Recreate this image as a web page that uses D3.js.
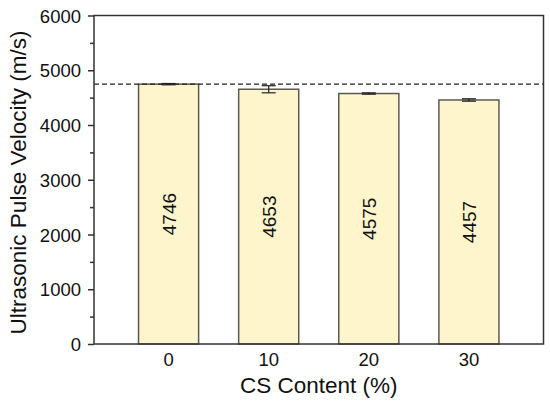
<!DOCTYPE html>
<html>
<head>
<meta charset="utf-8">
<script src="https://cdn.jsdelivr.net/npm/d3@7"></script>
<style>
  body { margin: 0; background: #fff; }
  text { font-family: "Liberation Sans", Arial, sans-serif; fill: #111; }
</style>
</head>
<body>
<script>
'use strict';

// chart values
var categories = ['0', '10', '20', '30'];
var velocities = [4746, 4653, 4575, 4457];
var errors = [12, 65, 12, 22];
var yTicks = [0, 1000, 2000, 3000, 4000, 5000, 6000];
var yMinorTicks = [500, 1500, 2500, 3500, 4500, 5500];

var width = 550;
var height = 401;
var margin = {top: 15.5, right: 6.5, bottom: 57, left: 94};

var svg = d3.select('body')
    .append('svg')
    .attr('width', width)
    .attr('height', height);

var x = d3.scaleBand()
    .domain(categories)
    .range([margin.left, width - margin.right])
    .paddingInner(0.4)
    .paddingOuter(0.445);

var y = d3.scaleLinear()
    .domain([0, 6000])
    .range([height - margin.bottom, margin.top]);

var data = categories.map(function (c, i) {
    return {cat: c, value: velocities[i], err: errors[i]};
});

// bars
svg.selectAll('.bar')
    .data(data)
    .enter()
    .append('rect')
    .attr('class', 'bar')
    .attr('x', function (d) { return x(d.cat); })
    .attr('y', function (d) { return y(d.value); })
    .attr('width', x.bandwidth())
    .attr('height', function (d) { return y(0) - y(d.value); })
    .style('fill', '#fef5cc')
    .style('stroke', '#5a5a50')
    .style('stroke-width', 1.5);

// error bars
var eb = svg.selectAll('.err')
    .data(data)
    .enter()
    .append('g')
    .attr('class', 'err')
    .style('stroke', '#222')
    .style('stroke-width', 1.2);

eb.append('line')
    .attr('x1', function (d) { return x(d.cat) + x.bandwidth() / 2; })
    .attr('x2', function (d) { return x(d.cat) + x.bandwidth() / 2; })
    .attr('y1', function (d) { return y(d.value + d.err); })
    .attr('y2', function (d) { return y(d.value - d.err); });

[1, -1].forEach(function (s) {
    eb.append('line')
        .attr('x1', function (d) { return x(d.cat) + x.bandwidth() / 2 - 7; })
        .attr('x2', function (d) { return x(d.cat) + x.bandwidth() / 2 + 7; })
        .attr('y1', function (d) { return y(d.value + s * d.err); })
        .attr('y2', function (d) { return y(d.value + s * d.err); });
});

// reference dashed line at the control value
svg.append('line')
    .attr('x1', margin.left)
    .attr('x2', width - margin.right)
    .attr('y1', y(velocities[0]))
    .attr('y2', y(velocities[0]))
    .style('stroke', '#222')
    .style('stroke-width', 1.2)
    .style('stroke-dasharray', '5,3');

// value labels, rotated, at half height
svg.selectAll('.val')
    .data(data)
    .enter()
    .append('text')
    .attr('class', 'val')
    .attr('transform', function (d) {
        return 'translate(' + (x(d.cat) + x.bandwidth() / 2 + 7) + ',' + y(d.value / 2) + ') rotate(-90)';
    })
    .attr('text-anchor', 'middle')
    .style('font-size', '19px')
    .text(function (d) { return d.value; });

// frame
svg.append('rect')
    .attr('x', margin.left)
    .attr('y', margin.top)
    .attr('width', width - margin.left - margin.right)
    .attr('height', height - margin.top - margin.bottom)
    .style('fill', 'none')
    .style('stroke', '#333')
    .style('stroke-width', 1.5);

// y axis
var yAxis = svg.append('g')
    .attr('transform', 'translate(' + margin.left + ',0)')
    .call(d3.axisLeft(y).tickValues(yTicks).tickFormat(d3.format('d')).tickSize(6).tickPadding(7));
yAxis.select('.domain').remove();
yAxis.selectAll('line').style('stroke', '#333').style('stroke-width', 1.5);
yAxis.selectAll('text').style('font-size', '18.5px').attr('dy', '0.36em');

var yMinor = svg.append('g')
    .attr('transform', 'translate(' + margin.left + ',0)')
    .call(d3.axisLeft(y).tickValues(yMinorTicks).tickSize(4).tickFormat(''));
yMinor.select('.domain').remove();
yMinor.selectAll('line').style('stroke', '#333').style('stroke-width', 1.5);

// x axis
var xAxis = svg.append('g')
    .attr('transform', 'translate(0,' + (height - margin.bottom) + ')')
    .call(d3.axisBottom(x).tickSize(0).tickPadding(9));
xAxis.select('.domain').remove();
xAxis.selectAll('text').style('font-size', '18.5px').attr('dy', '0.71em');

// axis titles
svg.append('text')
    .attr('x', (margin.left + width - margin.right) / 2)
    .attr('y', 393)
    .attr('text-anchor', 'middle')
    .style('font-size', '22.5px')
    .text('CS Content (%)');

svg.append('text')
    .attr('transform', 'translate(26,182.5) rotate(-90)')
    .attr('text-anchor', 'middle')
    .style('font-size', '22.5px')
    .text('Ultrasonic Pulse Velocity (m/s)');
</script>
</body>
</html>
